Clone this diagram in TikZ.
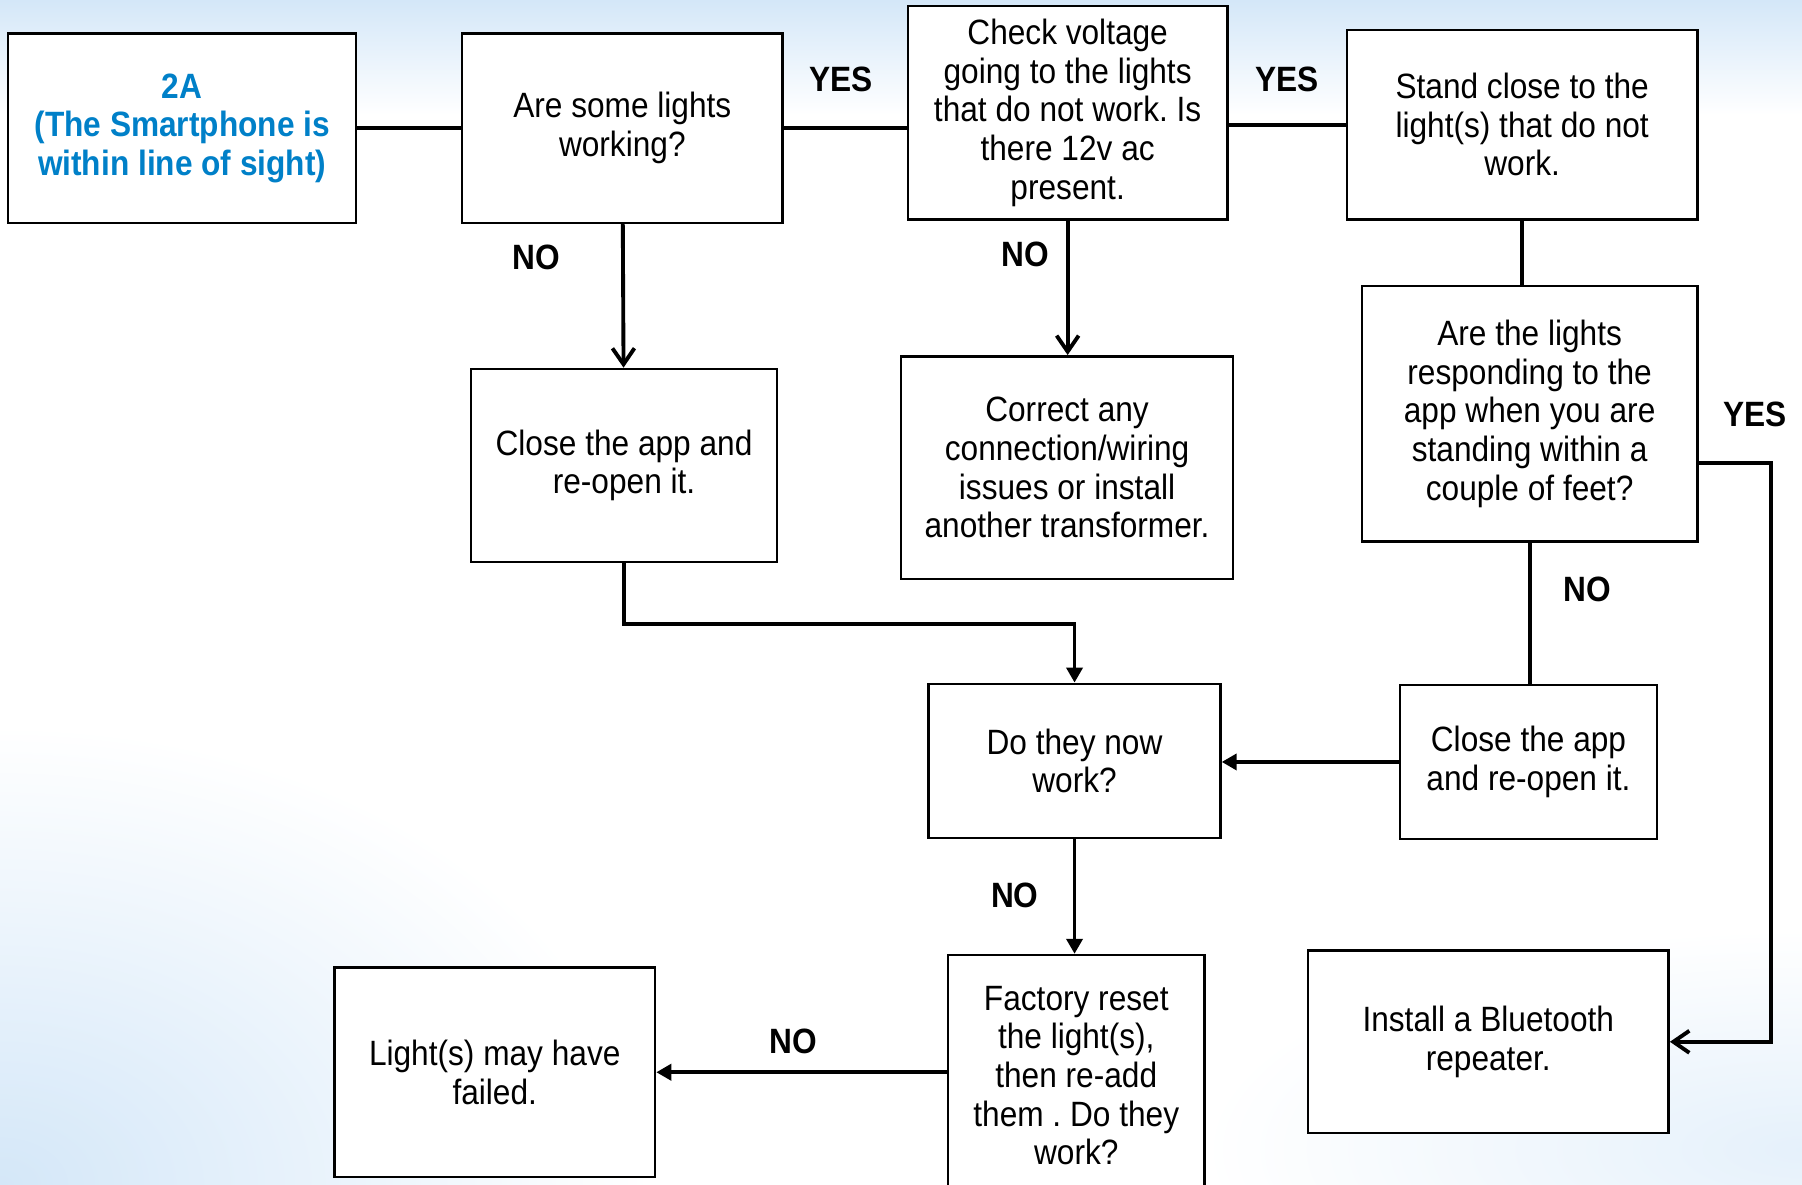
\documentclass[tikz,border=0pt]{standalone}
\usepackage{fontspec}
\setmainfont{Liberation Sans}[FakeStretch=0.9]
\usetikzlibrary{positioning,arrows.meta}
\frenchspacing

\definecolor{titleblue}{RGB}{0,128,200}
\definecolor{skyblue}{RGB}{212,231,248}

\tikzset{
  box/.style={draw, line width=0.7pt, fill=white, align=center, inner sep=0pt,
    font=\fontsize{10}{11}\selectfont},
  sz/.style 2 args={minimum width=#1*0.011492cm, minimum height=#2*0.011492cm},
  conn/.style={line width=1.1pt},
  barb/.style={conn, -{Straight Barb[length=1.6mm, width=2.2mm]}},
  tri/.style={conn, -{Triangle[length=1.5mm, width=1.6mm]}},
  lbl/.style={font=\bfseries\fontsize{10}{11}\selectfont},
}

\begin{document}
\begin{tikzpicture}[x=0.011492cm, y=-0.011492cm]
    \useasboundingbox (0,0) rectangle (1568,1031);
    % background
    \fill[white] (0,0) rectangle (1568,1031);
    \shade[inner color=skyblue!60, outer color=white] (1568,1000) ellipse [x radius=6cm, y radius=2.2cm];
    \shade[top color=skyblue, bottom color=white] (0,0) rectangle (1568,100);
    \shade[inner color=skyblue, outer color=white] (0,1031) ellipse [x radius=6.5cm, y radius=4.6cm];

    % boxes
    \node[box, sz={303}{165}, text=titleblue, font=\bfseries\fontsize{10}{11}\selectfont] (start) at (158.5,111.5)
        {2A\\(The Smartphone is\\within line of sight)};
    \node[box, sz={279}{165}] (some) at (541.5,111.5) {Are some lights\\working?};
    \node[box, sz={278}{186}] (volt) at (929,98)
        {Check voltage\\going to the lights\\that do not work. Is\\there 12v ac\\present.};
    \node[box, sz={305}{165}] (stand) at (1324.5,108.5) {Stand close to the\\light(s) that do not\\work.};
    \node[box, sz={266}{168}] (close1) at (543,405) {Close the app and\\re-open it.};
    \node[box, sz={289}{194}] (fix) at (928.5,407)
        {Correct any\\connection/wiring\\issues or install\\another transformer.};
    \node[box, sz={292}{222}] (respond) at (1331,360)
        {Are the lights\\responding to the\\app when you are\\standing within a\\couple of feet?};
    \node[box, sz={254}{134}] (nowwork) at (935,662) {Do they now\\work?};
    \node[box, sz={224}{134}] (close2) at (1330,663) {Close the app\\and re-open it.};
    \node[box, sz={314}{159}] (repeater) at (1295,906.5) {Install a Bluetooth\\repeater.};
    \node[box, sz={223}{210}] (reset) at (936.5,936)
        {Factory reset\\the light(s),\\then re-add\\them . Do they\\work?};
    \node[box, sz={279}{182}] (failed) at (430.5,933) {Light(s) may have\\failed.};

    % connectors
    \draw[conn] (start) -- (some);
    \draw[conn] (some.east) -- (some.east -| volt.west);
    \draw[conn] (stand.west -| volt.east) -- (stand.west);
    \draw[barb] (some) -- (close1);
    \draw[barb] (volt.south) -- (volt.south |- fix.north);
    \draw[conn] (stand.south) -- (stand.south |- respond.north);
    \draw[conn] (respond.south) -- (respond.south |- close2.north);
    \coordinate (ybend) at (1541,403);
    \draw[barb] (respond.east |- ybend) -- (ybend) |- (repeater.east);
    \draw[tri] (close1.south) -- ++(0,53) -| (nowwork.north);
    \draw[tri] (close2.west) -- (close2.west -| nowwork.east);
    \draw[tri] (nowwork.south) -- (nowwork.south |- reset.north);
    \draw[tri] (reset.west |- failed) -- (failed.east);

    % YES / NO labels
    \foreach \n/\x/\y/\t in {yes1/732/69/YES, yes2/1120/69/YES, yes3/1527/361/YES,
                             no1/467/224/NO, no2/892/221/NO, no3/1381/513/NO,
                             no4/883/779/NO, no5/690/906/NO} {
        \node[lbl] (\n) at (\x,\y) {\t};
    }
\end{tikzpicture}
\end{document}
